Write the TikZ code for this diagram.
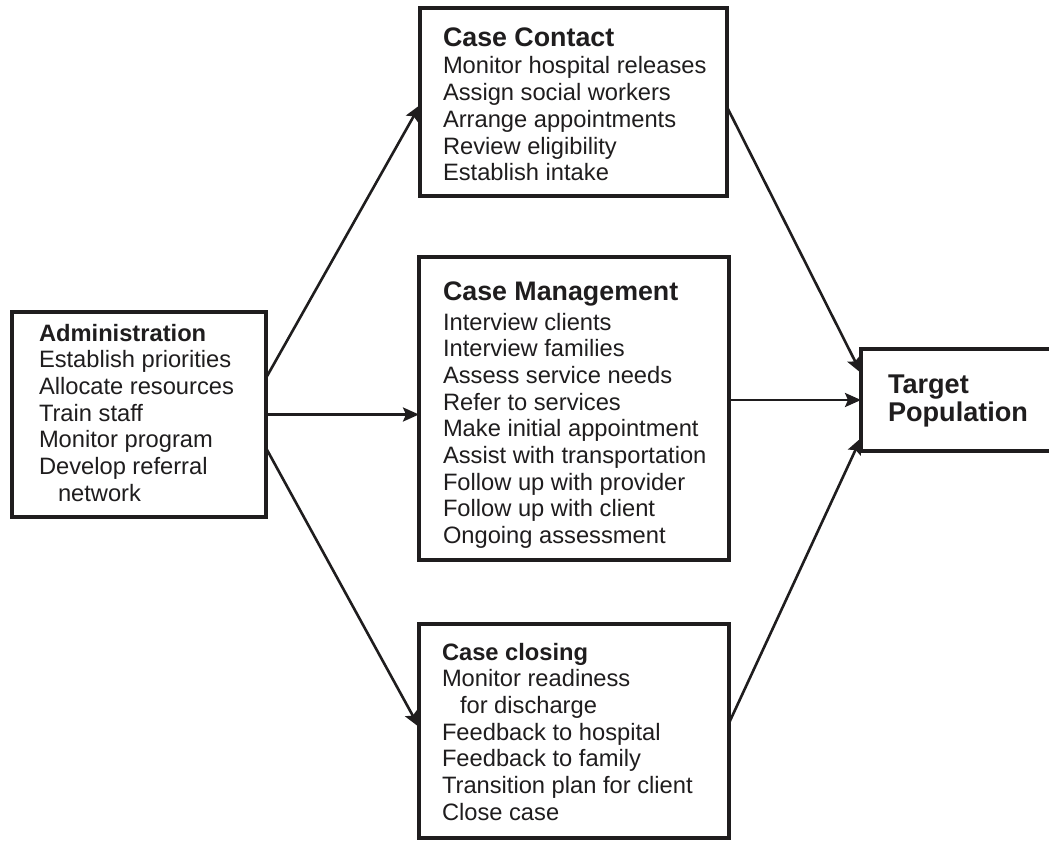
\documentclass[tikz,border=0pt]{standalone}
\usepackage{fontspec}
\setmainfont{Liberation Sans}
\usetikzlibrary{arrows.meta}
\definecolor{ink}{HTML}{1F1D1E}
\tikzset{
  box/.style={draw=ink, line width=4pt, rectangle, inner sep=0pt, outer sep=0pt},
  txt/.style={anchor=base west, inner sep=0pt, outer sep=0pt, text=ink,
              font=\fontsize{23.7pt}{26.7pt}\selectfont},
  conn/.style={draw=ink, line width=2.6pt,
               -{Stealth[length=16pt,width=14pt,inset=3pt]}},
}
\newcommand{\ttl}[1]{\textbf{\fontsize{26.8pt}{26.7pt}\selectfont #1}}
\begin{document}
\begin{tikzpicture}[x=1pt,y=-1pt]
\clip (0,0) rectangle (1049,842);
\fill[white] (0,0) rectangle (1049,842);
% boxes
\node[box, minimum width=254pt, minimum height=205pt] (admin) at (139,414.5) {};
\node[box, minimum width=307pt, minimum height=188pt] (cc) at (573.5,102) {};
\node[box, minimum width=310pt, minimum height=303pt] (cm) at (574,408.5) {};
\node[box, minimum width=310pt, minimum height=214pt] (cl) at (574,731) {};
\node[box, minimum width=210pt, minimum height=102pt] (tgt) at (966,400) {};
% texts
\node[txt] (admintxt) at (39,341) {\begin{tabular}[t]{@{}l@{}}
\textbf{Administration}\\
Establish priorities\\
Allocate resources\\
Train staff\\
Monitor program\\
Develop referral\\
\hspace{19pt}network
\end{tabular}};
\node[txt] (cctxt) at (443,47) {\begin{tabular}[t]{@{}l@{}}
\ttl{Case Contact}\\[0.3pt]
Monitor hospital releases\\
Assign social workers\\
Arrange appointments\\
Review eligibility\\
Establish intake
\end{tabular}};
\node[txt] (cmtxt) at (443,300) {\begin{tabular}[t]{@{}l@{}}
\ttl{Case Management}\\[3.3pt]
Interview clients\\
Interview families\\
Assess service needs\\
Refer to services\\
Make initial appointment\\
Assist with transportation\\
Follow up with provider\\
Follow up with client\\
Ongoing assessment
\end{tabular}};
\node[txt] (cltxt) at (442,660) {\begin{tabular}[t]{@{}l@{}}
\textbf{Case closing}\\
Monitor readiness\\
\hspace{18pt}for discharge\\
Feedback to hospital\\
Feedback to family\\
Transition plan for client\\
Close case
\end{tabular}};
\node[txt, font=\fontsize{27.1pt}{28.5pt}\selectfont\bfseries] (tgttxt) at (888,393) {\begin{tabular}[t]{@{}l@{}}
Target\\
Population
\end{tabular}};
% connectors
\draw[conn] ([yshift=36.5pt]admin.east) -- ([yshift=-3pt]cc.west);
\draw[conn] (admin.east) -- (admin.east -| cm.west);
\draw[conn] ([yshift=-33.5pt]admin.east) -- ([yshift=4pt]cl.west);
\draw[conn] ([yshift=-5pt]cc.east) -- ([yshift=27pt]tgt.west);
\draw[conn] (cm.east |- tgt.west) -- (tgt.west);
\draw[conn] ([yshift=8pt]cl.east) -- ([yshift=-38pt]tgt.west);
\end{tikzpicture}
\end{document}
